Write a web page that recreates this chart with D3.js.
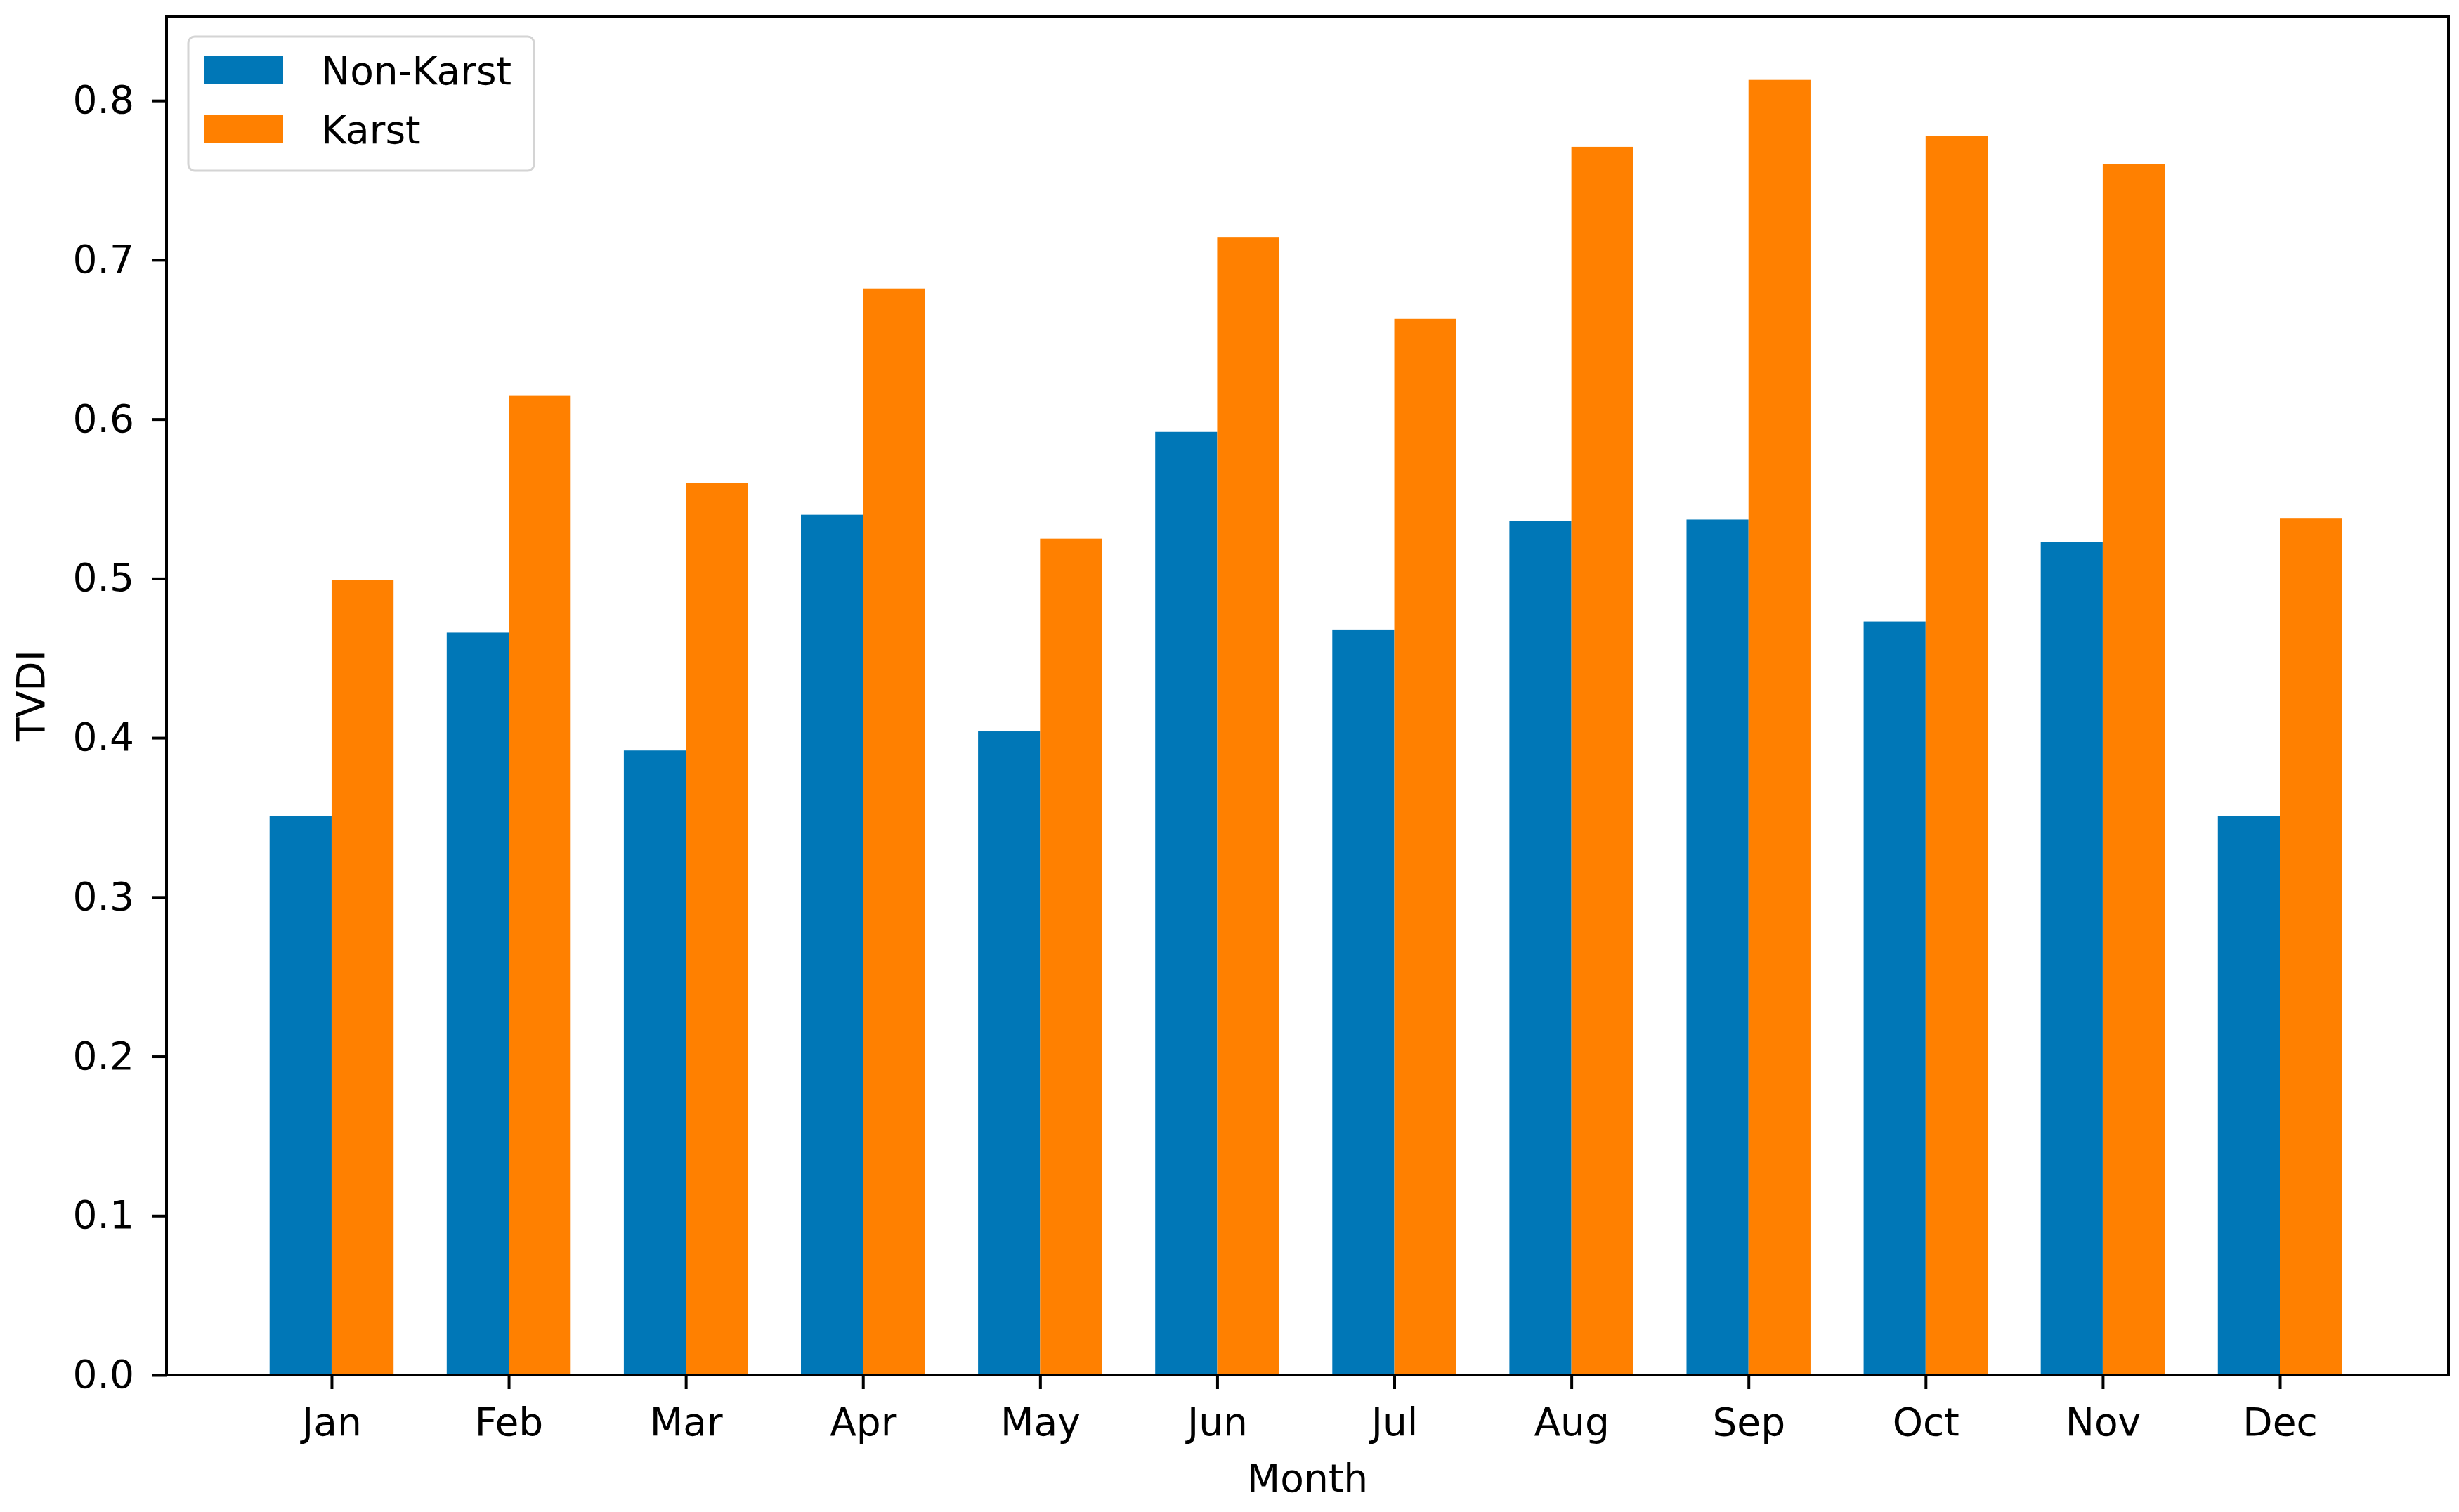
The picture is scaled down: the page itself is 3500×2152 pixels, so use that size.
<!DOCTYPE html>
<html>
<head>
<meta charset="utf-8">
<script src="https://cdn.jsdelivr.net/npm/d3@7"></script>
<style>
  html, body { margin: 0; padding: 0; background: #ffffff; }
  svg { display: block; }
  text { font-family: "DejaVu Sans", sans-serif; }
</style>
</head>
<body>
<script>
const months = ["Jan","Feb","Mar","Apr","May","Jun","Jul","Aug","Sep","Oct","Nov","Dec"];
const seriesNames = ["Non-Karst", "Karst"];
const nonKarst = [0.351, 0.466, 0.392, 0.540, 0.404, 0.592, 0.468, 0.536, 0.537, 0.473, 0.523, 0.351];
const karst    = [0.499, 0.615, 0.560, 0.682, 0.525, 0.714, 0.663, 0.771, 0.813, 0.778, 0.760, 0.538];
const yTicks = [0.0, 0.1, 0.2, 0.3, 0.4, 0.5, 0.6, 0.7, 0.8];
const colors = ["#0077b7", "#ff8000"];

const W = 3500, H = 2152;
const L = 237, R = 3485, T = 23, B = 1957;
const barW = 0.35;

const svg = d3.select("body").append("svg").attr("width", W).attr("height", H);

const x = d3.scaleLinear().domain([-0.932, 11.952]).range([L, R]);
const y = d3.scaleLinear().domain([0, 0.853]).range([B, T]);

const series = [nonKarst, karst];
series.forEach((vals, s) => {
  svg.append("g").selectAll("rect").data(vals).join("rect")
    .attr("x", (d, i) => x(s === 0 ? i - barW : i))
    .attr("width", x(barW) - x(0))
    .attr("y", d => y(d))
    .attr("height", d => y(0) - y(d))
    .attr("fill", colors[s]);
});

// axes
const xAxis = d3.axisBottom(x).tickValues(d3.range(months.length))
  .tickFormat(i => months[i]).tickSize(20).tickPadding(27);
const yAxis = d3.axisLeft(y).tickValues(yTicks)
  .tickFormat(d3.format(".1f")).tickSize(20).tickPadding(26);

const gx = svg.append("g").attr("transform", `translate(0,${B})`).call(xAxis);
const gy = svg.append("g").attr("transform", `translate(${L},0)`).call(yAxis);
[gx, gy].forEach(g => {
  g.select(".domain").remove();
  g.selectAll(".tick line").attr("stroke", "#000").attr("stroke-width", 4);
  g.selectAll(".tick text").attr("font-size", 55).attr("fill", "#000")
    .attr("font-family", "DejaVu Sans, sans-serif");
});

// frame
svg.append("rect").attr("x", L).attr("y", T).attr("width", R - L).attr("height", B - T)
  .attr("fill", "none").attr("stroke", "#000").attr("stroke-width", 4);

// axis labels
svg.append("text").attr("x", (L + R) / 2).attr("y", 2123)
  .attr("text-anchor", "middle").attr("font-size", 55).attr("fill", "#000").text("Month");
svg.append("text").attr("transform", `translate(63,${(T + B) / 2}) rotate(-90)`)
  .attr("text-anchor", "middle").attr("font-size", 55).attr("fill", "#000").text("TVDI");

// legend
const lg = svg.append("g");
lg.append("rect").attr("x", 268).attr("y", 52).attr("width", 492).attr("height", 191)
  .attr("rx", 9).attr("fill", "#fff").attr("fill-opacity", 0.8)
  .attr("stroke", "#d4d4d4").attr("stroke-width", 3);
const items = lg.selectAll("g.item").data(seriesNames).join("g").attr("class", "item")
  .attr("transform", (d, i) => `translate(0,${i * 84})`);
items.append("rect").attr("x", 290).attr("y", 80).attr("width", 113).attr("height", 40)
  .attr("fill", (d, i) => colors[i]);
items.append("text").attr("x", 457).attr("y", 120).attr("font-size", 55).attr("fill", "#000")
  .text(d => d);
</script>
</body>
</html>
